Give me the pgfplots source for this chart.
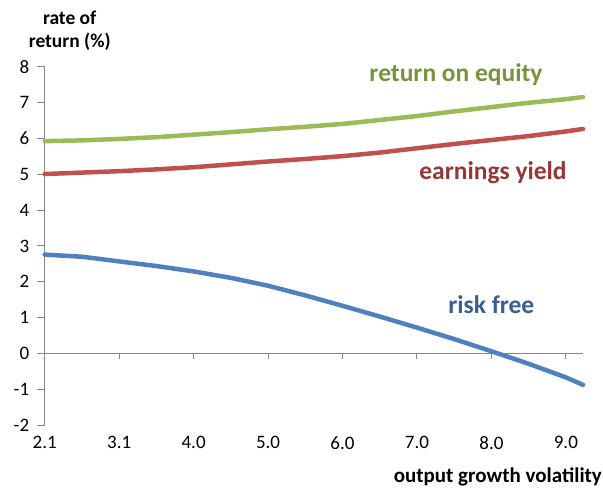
\documentclass[border=0pt]{standalone}
\usepackage{fontspec}
\setmainfont{Carlito}
\usepackage{pgfplots}
\pgfplotsset{compat=1.18}
\definecolor{lgreen}{HTML}{9BBB59}
\definecolor{lred}{HTML}{C0504D}
\definecolor{lblue}{HTML}{4F81BD}
\definecolor{tgreen}{HTML}{77933C}
\definecolor{tred}{HTML}{953735}
\definecolor{tblue}{HTML}{376092}
\definecolor{axgray}{HTML}{868686}
\begin{document}
\begin{tikzpicture}
\begin{axis}[
  at={(0,0)}, anchor=south west,
  scale only axis, width=538.3bp, height=358bp,
  xmin=0, xmax=7.23, ymin=-2, ymax=8,
  axis y line*=left, axis x line*=bottom,
  x axis line style={draw=none},
  y axis line style={draw=axgray, line width=1bp},
  ytick={-2,-1,0,1,2,3,4,5,6,7,8},
  xtick={0,1,2,3,4,5,6,7},
  xticklabels={2.1,3.1,4.0,5.0,6.0,7.0,8.0,9.0},
  tick align=outside,
  major tick length=8bp,
  ytick style={draw=axgray, line width=1bp},
  xtick style={draw=none},
  tick label style={font=\fontsize{19bp}{22bp}\selectfont},
  yticklabel style={xshift=-4bp},
  /pgf/number format/assume math mode=true,
  clip=false,
]
\draw[axgray, line width=1bp] (axis cs:0,0) -- (axis cs:7.23,0);
\pgfplotsinvokeforeach{0,1,2,3,4,5,6,7}{\draw[axgray, line width=1bp] (axis cs:#1,0) -- ([yshift=-6bp]axis cs:#1,0);}
\addplot[lgreen, line width=4.5bp, line cap=round, line join=round] coordinates {
(0,5.93) (0.5,5.95) (1,5.99) (1.5,6.04) (2,6.11) (2.5,6.18) (3,6.26) (3.5,6.33)
(4,6.41) (4.5,6.52) (5,6.63) (5.5,6.76) (6,6.88) (6.5,7.00) (7,7.10) (7.23,7.16)};
\addplot[lred, line width=4.5bp, line cap=round, line join=round] coordinates {
(0,5.01) (0.5,5.05) (1,5.09) (1.5,5.14) (2,5.20) (2.5,5.28) (3,5.36) (3.5,5.43)
(4,5.51) (4.5,5.61) (5,5.73) (5.5,5.85) (6,5.96) (6.5,6.07) (7,6.20) (7.23,6.27)};
\addplot[lblue, line width=4.5bp, line cap=round, line join=round] coordinates {
(0,2.76) (0.5,2.70) (1,2.57) (1.5,2.44) (2,2.29) (2.5,2.11) (3,1.89) (3.5,1.62)
(4,1.33) (4.5,1.03) (5,0.72) (5.5,0.40) (6,0.06) (6.5,-0.29) (7,-0.67) (7.23,-0.88)};
\end{axis}
\node[anchor=base, font=\bfseries\fontsize{19.5bp}{22bp}\selectfont] at (25bp,400bp) {rate of};
\node[anchor=base, font=\bfseries\fontsize{19.5bp}{22bp}\selectfont] at (25bp,377.5bp) {return (\%)};
\node[anchor=base, text=tgreen, font=\bfseries\fontsize{25.5bp}{28bp}\selectfont] at (411.3bp,343bp) {return on equity};
\node[anchor=base, text=tred, font=\bfseries\fontsize{25.5bp}{28bp}\selectfont] at (448.3bp,245bp) {earnings yield};
\node[anchor=base, text=tblue, font=\bfseries\fontsize{25.5bp}{28bp}\selectfont] at (446.6bp,111bp) {risk free};
\node[anchor=base east, inner sep=0pt, font=\bfseries\fontsize{21bp}{22bp}\selectfont] at (557.3bp,-57bp) {output growth volatility};
\pgfresetboundingbox
\path[use as bounding box] (-44.7bp,-63bp) rectangle (558.3bp,425bp);
\end{tikzpicture}
\end{document}
